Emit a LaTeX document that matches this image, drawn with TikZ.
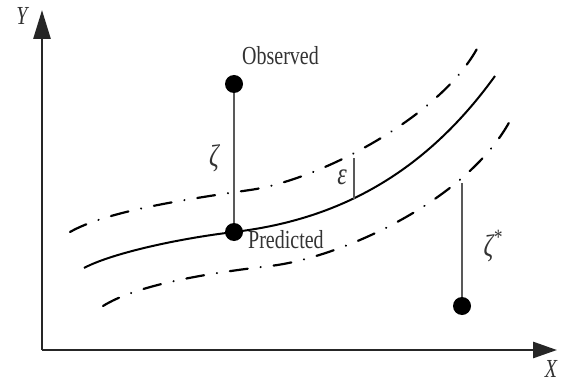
\documentclass[tikz,border=0pt]{standalone}
\usepackage{fontspec}
\setmainfont{Liberation Serif}
\usepackage{graphicx}
\usetikzlibrary{arrows.meta}
\newcommand{\vstr}[1]{\scalebox{1}[1.3]{#1}}
\tikzset{
  axisline/.style={line width=2.8pt, draw=black!85},
  dotnode/.style={circle, fill=black, inner sep=0pt, minimum size=18pt},
  stem/.style={line width=1.8pt, draw=black!65},
  predcurve/.style={line width=2pt, draw=black},
  bandcurve/.style={line width=2.2pt, draw=black, line cap=round,
    dash pattern=on 18pt off 13pt on 0.1pt off 13pt},
  lbl/.style={inner sep=0pt, text=black!80, font=\fontsize{20}{24}\selectfont},
  greek/.style={inner sep=0pt, text=black!80, font=\fontsize{24}{28}\selectfont\itshape},
}
\begin{document}
\begin{tikzpicture}[x=1pt,y=-1pt]
\useasboundingbox (0,0) rectangle (561,382);
% axes
\coordinate (origin) at (42,350);
\coordinate (ytip) at (42,10);
\coordinate (xtip) at (557,350);
\draw[axisline, -{Triangle[length=29pt,width=17pt]}] (origin) -- (ytip);
\draw[axisline, -{Triangle[length=24pt,width=16pt]}] (origin) -- (xtip);
\node[lbl, font=\fontsize{20}{24}\selectfont\itshape] (ylab) at (22,16) {\vstr{Y}};
\node[lbl, font=\fontsize{20}{24}\selectfont\itshape] (xlab) at (551,369) {\vstr{X}};
% curves
\draw[predcurve] (84,268) .. controls (110,254) and (175,239) .. (234,232)
                 .. controls (330,220.6) and (420,180) .. (495,76);
\draw[bandcurve] (70,232) .. controls (105,212) and (180,200) .. (250,190)
                 .. controls (320,180) and (445,115) .. (480,43);
\draw[bandcurve] (103,306) .. controls (135,286) and (200,274) .. (270,266)
                 .. controls (340,258) and (470,200) .. (512,117);
% points
\node[dotnode] (obs) at (234,84) {};
\node[dotnode] (pred) at (234,232) {};
\node[dotnode] (outl) at (462,306) {};
\coordinate (bandpt) at (462,183);
\coordinate (epstop) at (354,158);
\coordinate (epsbot) at (354,199);
\draw[stem] (obs) -- (pred);
\draw[stem] (bandpt) -- (outl);
\draw[stem] (epstop) -- (epsbot);
% labels
\node[lbl, anchor=base west] (obslab) at (242,65) {\vstr{Observed}};
\node[lbl, anchor=base west] (predlab) at (248,248) {\vstr{Predicted}};
\node[greek] (zeta) at (214,158) {\vstr{ζ}};
\node[greek] (eps) at (342,177) {\vstr{ε}};
\node[greek] (zetastar) at (493,246) {\vstr{ζ\textsuperscript{*}}};
\end{tikzpicture}
\end{document}
